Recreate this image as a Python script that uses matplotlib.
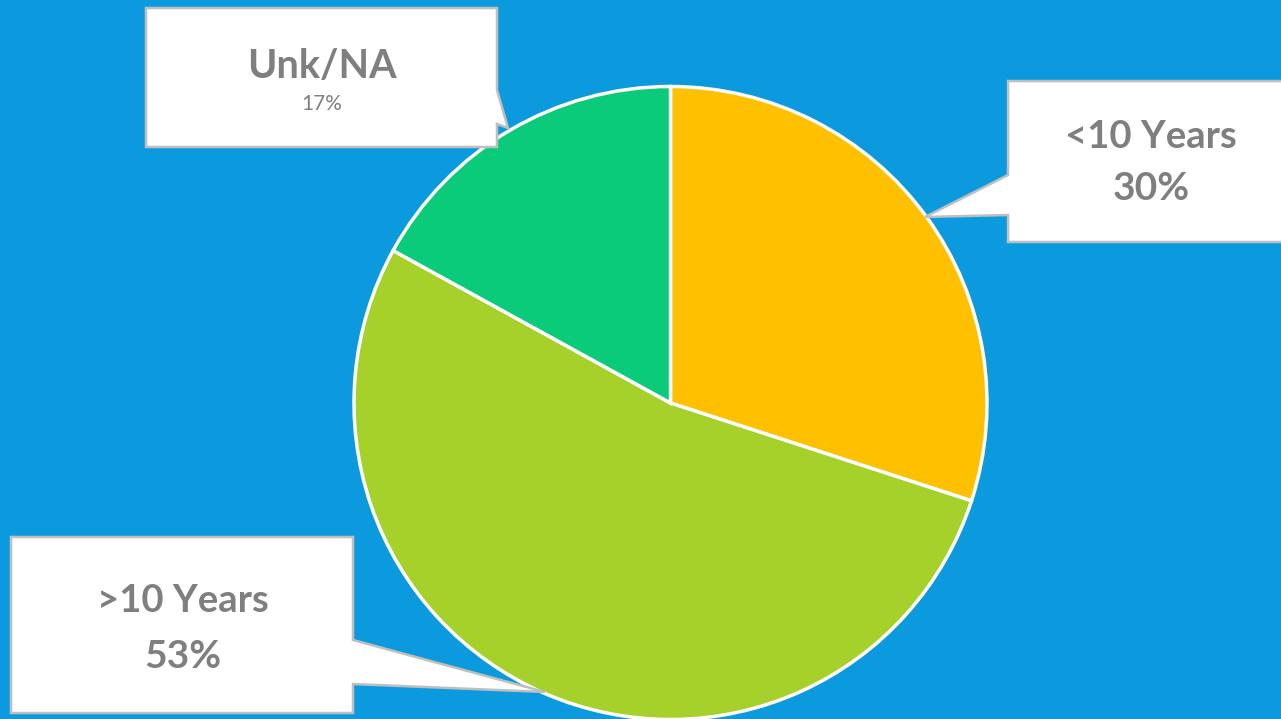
import matplotlib.pyplot as plt
from matplotlib.patches import Polygon

# data
labels = ['<10 Years', '>10 Years', 'Unk/NA']
shares = [30, 53, 17]
slice_colors = ['#FFC000', '#A6D12A', '#0ACB79']

W, H = 1281, 719
BG = '#0B9ADE'
TEXT = '#7F7F7F'


def fy(y):
    # pixel row (from top) -> axis y
    return H - y


fig = plt.figure(figsize=(W / 100, H / 100), dpi=100, facecolor=BG)
ax = fig.add_axes([0, 0, 1, 1])
ax.set_facecolor(BG)

ax.pie(shares, colors=slice_colors, startangle=90, counterclock=False,
       center=(670.5, fy(403)), radius=316.5,
       wedgeprops=dict(edgecolor='white', linewidth=2.5))

ax.set_xlim(0, W)
ax.set_ylim(0, H)
ax.set_aspect('equal')
ax.axis('off')

# callout shapes: box outline with a pointer towards the slice
callouts = {
    'Unk/NA': [(146, 8), (497, 8), (497, 90), (508, 128), (497, 124),
               (497, 147), (146, 147)],
    '<10 Years': [(1008, 81), (1290, 81), (1290, 242), (1008, 242),
                  (1008, 215), (925, 217), (1008, 175)],
    '>10 Years': [(11, 537), (353, 537), (353, 640), (545, 692),
                  (353, 684), (353, 713), (11, 713)],
}
for name, pts in callouts.items():
    poly = Polygon([(x, fy(y)) for x, y in pts], closed=True,
                   facecolor='white', edgecolor='#BFBFBF', linewidth=1.8,
                   zorder=5)
    ax.add_patch(poly)

font = ['Lato', 'DejaVu Sans']
share_of = dict(zip(labels, shares))

# Unk/NA: large name, small percentage
ax.text(322, fy(66), 'Unk/NA', ha='center', va='center', fontsize=28.5,
        fontweight='bold', color=TEXT, family=font, zorder=6)
ax.text(322, fy(104), f"{share_of['Unk/NA']}%", ha='center', va='center',
        fontsize=15, color=TEXT, family=font, zorder=6)

ax.text(1151, fy(137), '<10 Years', ha='center', va='center', fontsize=27.5,
        fontweight='bold', color=TEXT, family=font, zorder=6)
ax.text(1151, fy(188), f"{share_of['<10 Years']}%", ha='center', va='center',
        fontsize=28, fontweight='bold', color=TEXT, family=font, zorder=6)

ax.text(183, fy(601), '>10 Years', ha='center', va='center', fontsize=27.5,
        fontweight='bold', color=TEXT, family=font, zorder=6)
ax.text(183, fy(657), f"{share_of['>10 Years']}%", ha='center', va='center',
        fontsize=28, fontweight='bold', color=TEXT, family=font, zorder=6)

fig.savefig('out.png', dpi=100, facecolor=BG)
